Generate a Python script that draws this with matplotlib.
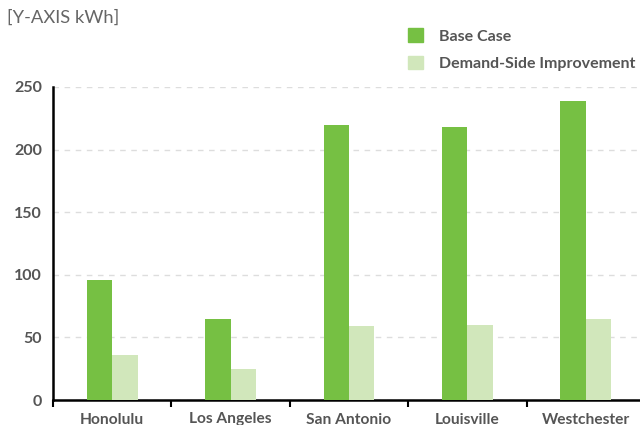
import numpy as np
import matplotlib.pyplot as plt
from matplotlib.patches import Patch

plt.rcParams['font.family'] = ['Lato', 'DejaVu Sans']

# data
cities = ['Honolulu', 'Los Angeles', 'San Antonio', 'Louisville', 'Westchester']
base_case = [96, 65, 220, 218, 239]
demand_side = [36, 25, 59, 60, 65]
y_ticks = [0, 50, 100, 150, 200, 250]

base_color = '#76c043'
dsi_color = '#d1e7bb'
text_color = '#555555'

fig = plt.figure(figsize=(6.4, 4.25), dpi=100)
ax = fig.add_axes([53 / 640, 1 - 400 / 425, 592 / 640, 313 / 425])

x = np.arange(len(cities))
w = 0.215
ax.bar(x - w / 2, base_case, width=w, color=base_color, zorder=3)
ax.bar(x + w / 2, demand_side, width=w, color=dsi_color, zorder=3)

ax.set_xlim(-0.5, len(cities) - 0.5)
ax.set_ylim(0, 250)
ax.set_yticks(y_ticks)
ax.set_yticklabels([str(t) for t in y_ticks], fontsize=11.5, fontweight='bold', color=text_color)
ax.yaxis.grid(True, linestyle=(0, (4, 4)), color='#dddddd', linewidth=1, zorder=0)
ax.tick_params(axis='y', length=0, pad=8)

ax.set_xticks(x)
ax.set_xticklabels(cities, fontsize=11.2, fontweight='bold', color=text_color)
ax.set_xticks(np.arange(len(cities)) - 0.5, minor=True)
ax.tick_params(axis='x', which='major', length=0, pad=9)
ax.tick_params(axis='x', which='minor', length=5, width=1.5, color='black')

for s in ['top', 'right']:
    ax.spines[s].set_visible(False)
for s in ['left', 'bottom']:
    ax.spines[s].set_linewidth(1.8)
    ax.spines[s].set_color('black')

fig.text(7 / 640, 1 - 18 / 425, '[Y-AXIS kWh]', fontsize=13.2, color='#666666', va='center')

handles = [Patch(color=base_color, label='Base Case'),
           Patch(color=dsi_color, label='Demand-Side Improvement')]
leg = fig.legend(handles=handles, loc='upper left', bbox_to_anchor=(402 / 640, 1 - 22 / 425),
                 frameon=False, fontsize=11.5, handlelength=0.9, handleheight=0.9,
                 handletextpad=1.0, labelspacing=0.75, borderaxespad=0)
for t in leg.get_texts():
    t.set_color(text_color)
    t.set_fontweight('bold')

fig.savefig('out.png', dpi=100)
